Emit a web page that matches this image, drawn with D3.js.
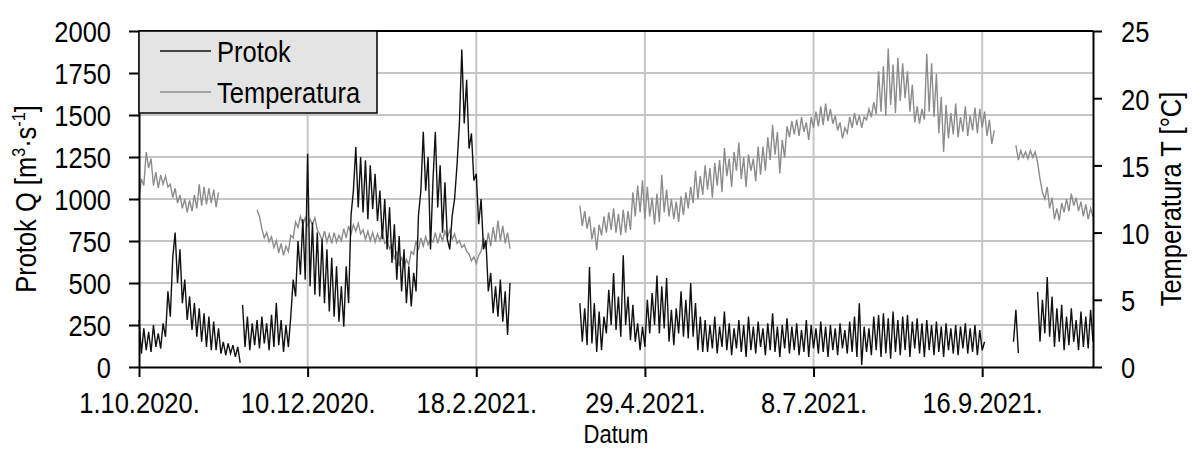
<!DOCTYPE html>
<html>
<head>
<meta charset="utf-8">
<script src="https://cdn.jsdelivr.net/npm/d3@7"></script>
<style>
  html, body { margin: 0; padding: 0; background: #fff; }
  svg { display: block; }
  text { font-family: "Liberation Sans", Arial, sans-serif; fill: #000; }
</style>
</head>
<body>
<svg id="chart" width="1192" height="449"></svg>
<script>
// ---------------- DATA ----------------
const xTickDates  = ["2020-10-01","2020-12-10","2021-02-18","2021-04-29","2021-07-08","2021-09-16"];
const xTickLabels = ["1.10.2020.","10.12.2020.","18.2.2021.","29.4.2021.","8.7.2021.","16.9.2021."];
const leftTicks   = [0,250,500,750,1000,1250,1500,1750,2000];
const rightTicks  = [0,5,10,15,20,25];
const seriesNames = ["Protok","Temperatura"];

// Protok Q [m3/s] – daily readings (alternating daily lows/highs), segments separated by data gaps
const protokStarts = ["2020-10-01","2020-11-13","2021-04-02","2021-09-29","2021-10-09"];
const protokSeg1 = [280,80,230,100,210,90,250,120,200,110,260,180,450,300,650,800,500,700,380,520,
  280,420,220,380,180,350,150,320,120,300,100,270,100,230,80,150,70,140,80,130,60,120,25];
const protokSeg2 = [370,120,300,100,260,130,280,110,300,140,260,100,310,120,380,130,280,90,250,120,
  300,520,420,750,550,880,520,1270,480,860,430,800,420,760,380,700,330,650,300,600,270,480,240,600,380,
  900,1050,1310,950,1250,920,1230,880,1200,940,1150,870,1050,760,1000,700,950,620,850,520,780,450,700,380,
  600,360,560,450,900,1050,1400,1050,1250,700,1100,1400,950,1200,800,1100,760,700,900,1000,1200,1450,1890,
  1450,1710,1300,1390,1110,1150,850,1000,700,755,450,560,320,480,300,520,270,450,190,500];
const protokSeg3 = [380,150,350,130,595,140,380,90,330,100,300,200,460,250,560,220,420,180,665,250,
  420,160,370,150,260,100,240,120,400,200,440,250,545,200,480,230,530,150,340,130,350,200,450,180,400,
  170,500,180,380,100,300,90,
  280,90,250,110,300,80,240,120,330,100,260,70,230,110,280,90,250,60,300,100,240,80,270,120,230,70,
  260,100,320,90,240,60,250,110,290,80,240,100,260,70,220,90,280,60,250,110,230,80,270,90,240,60,
  250,100,230,70,260,110,220,80,270,90,300,60,380,12,240,90,230,70,300,100,310,60,320,80,290,50,
  330,90,280,70,300,100,310,60,270,110,290,80,260,60,280,100,250,70,270,90,240,60,260,100,230,80,
  250,70,240,110,260,80,230,90,250,70,220,100,150];
const protokSeg4 = [150,340,83];
const protokSeg5 = [447,150,400,200,535,180,420,120,350,150,370,100,300,130,350,150,280,100,330,120,
  300,110,340,150];

// Temperatura T [°C]
const tempStarts = ["2020-10-01","2020-11-19","2021-04-02","2021-09-30"];
const tempSeg1 = [12.5,14.0,13.5,16.0,14.8,15.5,13.5,14.5,13.3,14.3,13.6,14.2,13.4,13.6,12.6,13.3,12.2,
  12.8,11.8,12.5,11.5,12.4,11.6,12.8,11.8,13.6,12.0,13.4,12.1,13.3,12.2,13.2,11.9,13.0];
const tempSeg2 = [11.7,11.2,10.3,9.6,10.0,9.3,9.7,8.9,9.4,8.5,9.2,8.3,9.0,8.6,9.8,9.6,10.8,10.4,11.2,
  10.6,11.1,10.5,11.0,10.6,11.1,10.2,9.9,9.4,10.1,9.3,9.9,9.2,10.0,9.3,9.8,9.4,10.3,9.6,10.5,9.9,10.6,
  10.1,10.7,9.9,10.2,9.5,10.1,9.4,10.0,9.3,9.9,9.4,10.0,9.2,9.4,8.8,9.1,8.0,8.6,7.5,8.2,7.4,8.0,7.6,
  8.6,8.4,9.4,8.7,9.6,9.0,9.7,9.1,9.5,9.3,10.0,9.2,9.9,9.4,10.1,9.6,10.2,9.5,9.9,9.2,9.4,8.9,9.1,8.6,
  8.4,7.9,8.2,7.7,8.3,8.6,9.6,8.8,10.0,9.0,10.4,9.3,10.9,9.4,10.5,9.2,10.0,8.8];
const tempSeg3 = [12.0,10.5,11.6,10.3,11.2,9.5,10.4,8.7,10.6,9.8,11.2,10.0,11.5,10.2,11.8,10.0,11.4,9.8,
  11.7,10.0,11.6,10.2,13.0,11.2,13.5,11.5,13.9,11.0,13.4,11.2,12.6,10.6,12.9,10.8,14.3,11.5,13.2,11.2,
  12.5,11.0,12.3,10.8,12.7,11.3,13.0,11.8,13.4,12.2,14.6,12.5,14.2,12.8,15.0,13.2,14.8,12.6,15.2,13.5,
  15.4,13.0,16.3,14.2,15.5,13.4,16.0,14.6,16.7,14.0,15.6,13.4,15.8,14.6,15.5,13.8,16.4,14.3,16.4,14.6,
  17.1,15.4,18.0,15.8,17.5,14.4,16.9,15.6,17.9,17.1,18.3,17.3,18.4,17.2,18.6,17.5,18.2,16.9,18.6,17.8,
  19.0,17.9,19.4,18.0,19.6,18.3,19.2,18.1,18.7,17.6,18.2,17.0,17.8,17.4,18.6,17.8,18.9,18.0,18.7,17.8,
  18.6,18.4,19.2,18.6,19.7,18.8,22.0,19.0,22.4,18.7,23.7,19.5,22.5,18.9,23.0,19.8,22.6,20.0,22.0,19.0,
  21.0,18.2,19.4,18.1,19.2,18.4,23.3,19.0,22.6,18.6,21.8,17.4,20.1,16.0,19.5,17.0,18.9,17.3,19.6,17.1,
  18.6,17.5,19.4,17.2,18.7,17.6,19.3,17.4,19.2,17.8,19.0,17.2,18.4,16.6,17.6];
const tempSeg4 = [16.5,15.4,16.1,15.6,16.0,15.5,16.1,15.6,16.0,15.2,14.0,13.0,12.5,13.4,11.8,12.6,11.0,
  11.8,10.9,12.2,11.5,12.5,11.6,12.9,12.0,12.6,11.6,12.3,11.2,12.1,11.0,11.8,11.2];

// ---------------- CHART ----------------
const svg = d3.select("#chart");
const M = { left: 139, right: 1093, top: 31, bottom: 367 };
const FS = 30;
const SX = 0.85; // horizontal condensing (narrow sans look)
const parse = d3.utcParse("%Y-%m-%d");

const x = d3.scaleUtc().domain([parse("2020-10-01"), parse("2021-11-01")]).range([M.left, M.right]);
const yL = d3.scaleLinear().domain([0, 2000]).range([M.bottom, M.top]);
const yR = d3.scaleLinear().domain([0, 25]).range([M.bottom, M.top]);

function condense(sel) {
  sel.each(function () {
    const t = d3.select(this);
    const x0 = +(t.attr("x") || 0);
    t.attr("transform", `translate(${x0},0) scale(${SX},1) translate(${-x0},0)`);
  });
}

// grid
const grid = svg.append("g").attr("stroke", "#c6c6c6").attr("stroke-width", 2);
grid.selectAll("line.h").data(leftTicks.filter(v => v > 0 && v < 2000)).join("line")
  .attr("x1", M.left).attr("x2", M.right).attr("y1", d => yL(d)).attr("y2", d => yL(d));
grid.selectAll("line.v").data(xTickDates.slice(1)).join("line")
  .attr("x1", d => x(parse(d))).attr("x2", d => x(parse(d))).attr("y1", M.top).attr("y2", M.bottom);

// series
function segments(starts, segs, y) {
  return segs.map((vals, k) => {
    const s = parse(starts[k]);
    return vals.map((v, i) => [x(d3.utcDay.offset(s, i)), y(v)]);
  });
}
const line = d3.line();
const tSegs = segments(tempStarts, [tempSeg1, tempSeg2, tempSeg3, tempSeg4], yR);
const pSegs = segments(protokStarts, [protokSeg1, protokSeg2, protokSeg3, protokSeg4, protokSeg5], yL);

svg.append("g").selectAll("path").data(tSegs).join("path")
  .attr("d", line).attr("fill", "none").attr("stroke", "#8c8c8c").attr("stroke-width", 1.4);
svg.append("g").selectAll("path").data(pSegs).join("path")
  .attr("d", line).attr("fill", "none").attr("stroke", "#111").attr("stroke-width", 1.4);

// axes
function styleAxis(g) {
  g.selectAll("path.domain").attr("stroke", "#000").attr("stroke-width", 2);
  g.selectAll(".tick line").attr("stroke", "#000").attr("stroke-width", 2);
  g.selectAll("text").attr("font-size", FS).attr("font-family", null).attr("fill", "#000");
}
const ax = svg.append("g").attr("transform", `translate(0,${M.bottom})`)
  .call(d3.axisBottom(x).tickValues(xTickDates.map(parse))
    .tickFormat((d, i) => xTickLabels[i]).tickSize(10).tickSizeOuter(0).tickPadding(15));
styleAxis(ax);
condense(ax.selectAll("text"));

const ayl = svg.append("g").attr("transform", `translate(${M.left},0)`)
  .call(d3.axisLeft(yL).tickValues(leftTicks).tickFormat(d3.format("d")).tickSize(10).tickSizeOuter(0).tickPadding(18));
styleAxis(ayl);
ayl.selectAll("text").attr("dy", "0.36em");
condense(ayl.selectAll("text"));

const ayr = svg.append("g").attr("transform", `translate(${M.right},0)`)
  .call(d3.axisRight(yR).tickValues(rightTicks).tickFormat(d3.format("d")).tickSize(9).tickSizeOuter(0).tickPadding(19));
styleAxis(ayr);
ayr.selectAll("text").attr("dy", "0.36em");
condense(ayr.selectAll("text"));

// top frame
svg.append("line").attr("x1", M.left).attr("x2", M.right).attr("y1", M.top).attr("y2", M.top)
  .attr("stroke", "#000").attr("stroke-width", 2);

// axis titles
const cy = (M.top + M.bottom) / 2;
const tl = svg.append("text").attr("transform", `translate(36,${cy}) rotate(-90) scale(${SX},1)`)
  .attr("text-anchor", "middle").attr("font-size", FS);
tl.append("tspan").text("Protok Q [m");
tl.append("tspan").attr("font-size", 19).attr("dy", -11).text("3");
tl.append("tspan").attr("dy", 11).text("·s");
tl.append("tspan").attr("font-size", 19).attr("dy", -11).text("-1");
tl.append("tspan").attr("dy", 11).text("]");

svg.append("text").attr("transform", `translate(1181,${cy}) rotate(-90) scale(${SX},1)`)
  .attr("text-anchor", "middle").attr("font-size", FS).text("Temperatura T [°C]");

const dt = svg.append("text").attr("x", (M.left + M.right) / 2).attr("y", 443.5)
  .attr("text-anchor", "middle").attr("font-size", 26).text("Datum");
condense(dt);

// legend
const lg = svg.append("g");
lg.append("rect").attr("x", M.left).attr("y", M.top).attr("width", 238).attr("height", 82)
  .attr("fill", "#e4e4e4").attr("stroke", "#000").attr("stroke-width", 1.5);
const legColors = ["#111", "#8c8c8c"];
seriesNames.forEach((n, i) => {
  const yy = 51 + i * 41;
  lg.append("line").attr("x1", 160).attr("x2", 211).attr("y1", yy).attr("y2", yy)
    .attr("stroke", legColors[i]).attr("stroke-width", 1.5);
  const t = lg.append("text").attr("x", 217).attr("y", yy + 11).attr("font-size", FS).text(n);
  condense(t);
});
</script>
</body>
</html>
